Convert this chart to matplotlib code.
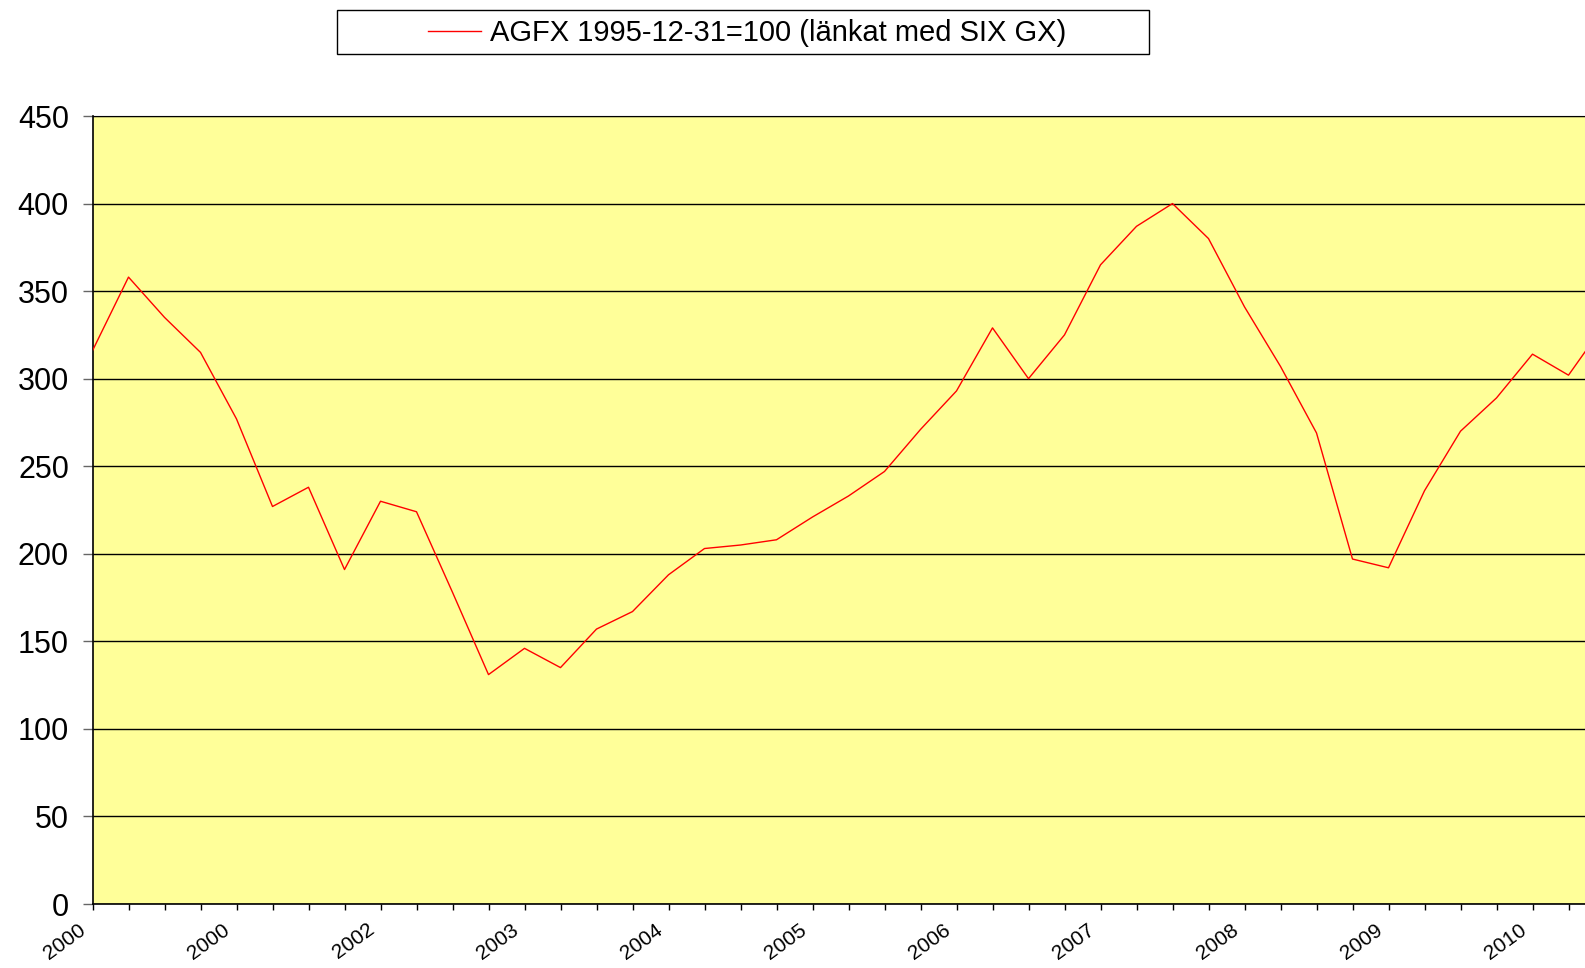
import numpy as np
import matplotlib
matplotlib.use("Agg")
from matplotlib import pyplot as plt
from matplotlib.patches import Rectangle
from matplotlib.transforms import ScaledTranslation

plt.rcParams['font.family'] = ['Liberation Sans', 'DejaVu Sans']

# index values, one point per period (last one runs off the right edge)
values = [316, 358, 335, 315, 277, 227, 238, 191, 230, 224,
          178, 131, 146, 135, 157, 167, 188, 203, 205, 208,
          221, 233, 247, 271, 293, 329, 300, 325, 365, 387,
          400, 380, 341, 307, 269, 197, 192, 236, 270, 289,
          314, 302, 331]
year_labels = ['2000', '2000', '2002', '2003', '2004', '2005',
               '2006', '2007', '2008', '2009', '2010']
label_step = 4
y_ticks = [0, 50, 100, 150, 200, 250, 300, 350, 400, 450]
series_name = 'AGFX 1995-12-31=100 (länkat med SIX GX)'

W, H = 1585, 968
fig = plt.figure(figsize=(W / 100, H / 100), dpi=100)
ax = fig.add_axes([92.5 / W, 1 - 904 / H, 1 - 92.5 / W, (904 - 116) / H])
ax.set_facecolor('#FFFF99')

x = np.arange(len(values))
line, = ax.plot(x, values, color='#FF0000', lw=1.0, label=series_name, zorder=3)

n_visible = len(values) - 1
ax.set_xlim(0, (W - 92.5) / 36.0)
ax.set_ylim(0, 450)

ax.set_yticks(y_ticks)
ax.set_yticklabels([str(v) for v in y_ticks], fontsize=22)
ax.yaxis.grid(True, color='black', lw=1.0)
ax.set_axisbelow(True)

# one tick per period, a year label every fourth tick
ax.set_xticks(np.arange(n_visible))
ax.tick_params(axis='x', length=4.5, width=1, labelbottom=False)
ax.tick_params(axis='y', length=7, width=1, color='#666666', pad=10)
lab_tr = ax.get_xaxis_transform() + ScaledTranslation(-14 / 100, -16 / 100,
                                                      fig.dpi_scale_trans)
for k, lab in enumerate(year_labels):
    ax.text(k * label_step, 0, lab, transform=lab_tr, fontsize=15,
            rotation=36, ha='right', va='top', rotation_mode='anchor',
            clip_on=False)

ax.spines['right'].set_visible(False)
ax.spines['top'].set_color('black')
ax.spines['left'].set_linewidth(1.2)
ax.spines['bottom'].set_linewidth(1.2)

# legend box at the top
fig.patches.append(Rectangle((337 / W, 1 - 54 / H), (1149 - 337) / W, 44 / H,
                             transform=fig.transFigure, facecolor='white',
                             edgecolor='black', lw=1.0))
fig.legend(handles=[line], loc='center', bbox_to_anchor=(747 / W, 1 - 33 / H),
           frameon=False, fontsize=21, handlelength=1.8, handletextpad=0.3)

fig.savefig('out.png', dpi=100)
